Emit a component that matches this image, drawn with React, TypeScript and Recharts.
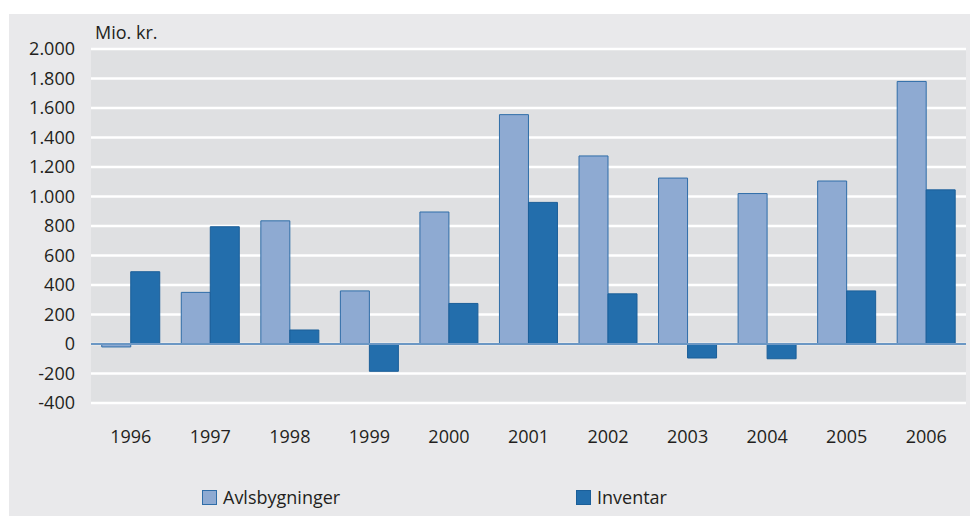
import React from 'react';
import { BarChart, Bar, XAxis, YAxis, CartesianGrid, ReferenceLine } from 'recharts';

const years = ['1996', '1997', '1998', '1999', '2000', '2001', '2002', '2003', '2004', '2005', '2006'];
const avlsbygninger = [-20, 350, 835, 360, 895, 1555, 1275, 1125, 1020, 1105, 1780];
const inventar = [490, 795, 95, -185, 275, 960, 340, -95, -100, 360, 1045];
const yTicks = [-400, -200, 0, 200, 400, 600, 800, 1000, 1200, 1400, 1600, 1800, 2000];

const data = years.map((year, i) => ({
  year,
  avlsbygninger: avlsbygninger[i],
  inventar: inventar[i],
}));

const FONT = '"Open Sans", "Noto Sans", sans-serif';
const TEXT = '#231f20';
const LIGHT = '#8eaad2';
const LIGHT_EDGE = '#2f6da8';
const DARK = '#236eac';
const DARK_EDGE = '#1b5f99';

// Norwegian thousands separator
const fmt = (v: number) => {
  const s = Math.abs(v).toString().replace(/\B(?=(\d{3})+(?!\d))/g, '.');
  return v < 0 ? `-${s}` : s;
};

const App: React.FC = () => {
  return (
    <div style={{ position: 'absolute', left: 0, top: 0, width: 979, height: 516, background: '#fff', fontFamily: FONT, overflow: 'hidden' }}>
      <div style={{ position: 'absolute', left: 9, top: 14, width: 961, height: 502, background: '#e9e9eb' }} />

      <div style={{ position: 'absolute', left: 95, top: 20, fontSize: 18, color: TEXT, lineHeight: '24px' }}>Mio. kr.</div>

      <div style={{ position: 'absolute', left: 0, top: 0 }}>
        <BarChart
          width={979}
          height={516}
          data={data}
          margin={{ top: 49, right: 13, bottom: 73, left: 31 }}
          barGap={0}
          barCategoryGap="13.5%"
        >
          <CartesianGrid vertical={false} fill="#dfe0e2" stroke="#ffffff" strokeWidth={2.5} strokeOpacity={1} />
          <XAxis
            dataKey="year"
            axisLine={false}
            tickLine={false}
            tickSize={0}
            tickMargin={27}
            height={40}
            tick={{ fontSize: 18, fill: TEXT, fontFamily: FONT }}
          />
          <YAxis
            domain={[-400, 2000]}
            ticks={yTicks}
            interval={0}
            tickFormatter={fmt}
            axisLine={false}
            tickLine={false}
            tickSize={0}
            tickMargin={16}
            width={60}
            tick={{ fontSize: 18, fill: TEXT, fontFamily: FONT }}
          />
          <ReferenceLine y={0} stroke="#6b97c4" strokeWidth={2} />
          <Bar dataKey="avlsbygninger" fill={LIGHT} stroke={LIGHT_EDGE} strokeWidth={1} isAnimationActive={false} />
          <Bar dataKey="inventar" fill={DARK} stroke={DARK_EDGE} strokeWidth={1} isAnimationActive={false} />
        </BarChart>
      </div>

      <div style={{ position: 'absolute', left: 202, top: 485, display: 'flex', alignItems: 'center', fontSize: 18, color: TEXT }}>
        <span style={{ display: 'inline-block', width: 13, height: 13, background: LIGHT, border: `1px solid ${LIGHT_EDGE}`, marginRight: 6 }} />
        Avlsbygninger
      </div>
      <div style={{ position: 'absolute', left: 576, top: 485, display: 'flex', alignItems: 'center', fontSize: 18, color: TEXT }}>
        <span style={{ display: 'inline-block', width: 13, height: 13, background: DARK, border: `1px solid ${DARK_EDGE}`, marginRight: 6 }} />
        Inventar
      </div>
    </div>
  );
};

export default App;
